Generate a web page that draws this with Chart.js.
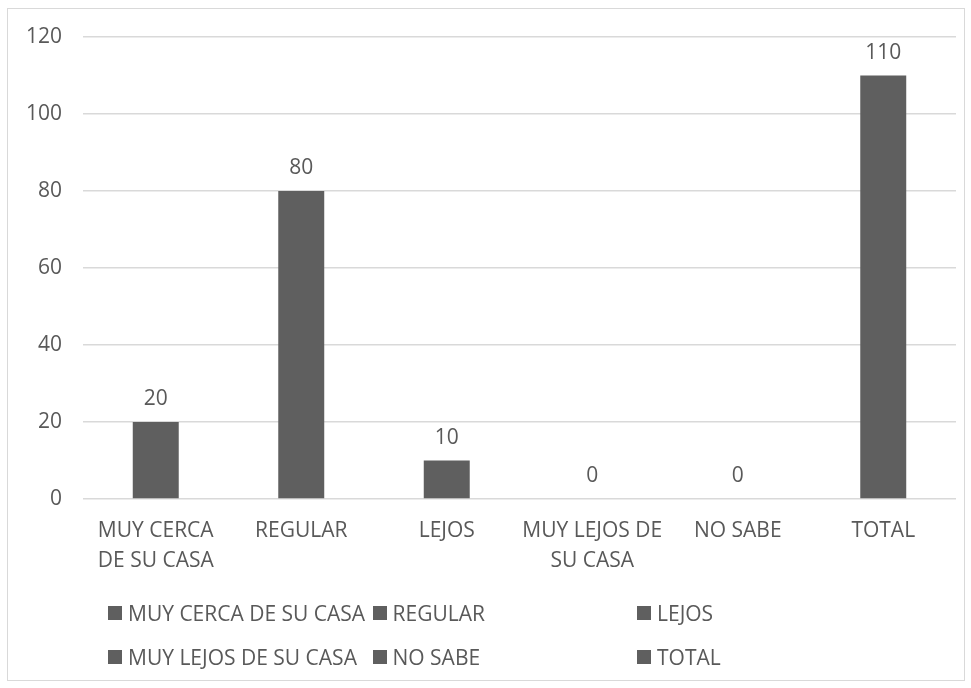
<!DOCTYPE html>
<html>
<head>
<meta charset="utf-8">
<script src="https://cdn.jsdelivr.net/npm/chart.js@4.4.1/dist/chart.umd.min.js"></script>
<style>
    body { margin: 0; background: #fff; font-family: "Open Sans", sans-serif; }
    #wrap { position: relative; width: 971px; height: 688px; }
    #frame { position: absolute; left: 7px; top: 8px; width: 956px; height: 671px; border: 1px solid #d9d9d9; }
    #chartCanvas { position: absolute; left: 0; top: 0; }
    #legend { position: absolute; left: 108px; top: 599px; display: grid; grid-template-columns: 264.5px 264.5px 264.5px; row-gap: 16px; }
    .item { display: flex; align-items: center; height: 28px; font-size: 21px; color: #595959; white-space: nowrap; }
    .box { width: 14px; height: 14px; background: #5f5f5f; margin-right: 6px; flex: none; }
</style>
</head>
<body>
<div id="wrap">
    <div id="frame"></div>
    <canvas id="chartCanvas" width="971" height="688"></canvas>
    <div id="legend"></div>
</div>
<script>
// ==============================
// Data
// ==============================
const categories = ['MUY CERCA DE SU CASA', 'REGULAR', 'LEJOS', 'MUY LEJOS DE SU CASA', 'NO SABE', 'TOTAL'];
const tickLabels = [['MUY CERCA', 'DE SU CASA'], 'REGULAR', 'LEJOS', ['MUY LEJOS DE', 'SU CASA'], 'NO SABE', 'TOTAL'];
const values = [20, 80, 10, 0, 0, 110];
const yTicks = [0, 20, 40, 60, 80, 100, 120];

const textColor = '#595959';
const barColor = '#5f5f5f';
const gridColor = '#d9d9d9';

// ==============================
// Value labels above bars
// ==============================
const valueLabels = {
    id: 'valueLabels',
    afterDatasetsDraw(chart) {
        const ctx = chart.ctx;
        const meta = chart.getDatasetMeta(0);
        ctx.save();
        ctx.font = '21px "Open Sans"';
        ctx.fillStyle = textColor;
        ctx.textAlign = 'center';
        ctx.textBaseline = 'alphabetic';
        meta.data.forEach((bar, i) => {
            ctx.fillText(String(values[i]), bar.x, bar.y - 17);
        });
        ctx.restore();
    }
};

// ==============================
// Chart
// ==============================
function renderChart() {
    const ctx = document.getElementById('chartCanvas').getContext('2d');
    new Chart(ctx, {
        type: 'bar',
        data: {
            labels: tickLabels,
            datasets: [{
                label: 'Serie',
                data: values,
                backgroundColor: barColor,
                categoryPercentage: 1,
                barPercentage: 0.316
            }]
        },
        options: {
            responsive: false,
            animation: false,
            layout: { padding: { left: 23, right: 15, top: 37, bottom: 0 } },
            plugins: { legend: { display: false }, tooltip: { enabled: false } },
            scales: {
                x: {
                    grid: { display: false, drawTicks: false },
                    border: { display: false },
                    ticks: {
                        color: textColor,
                        font: { family: 'Open Sans', size: 21, lineHeight: 1.42 },
                        padding: 17,
                        maxRotation: 0,
                        autoSkip: false
                    },
                    afterFit: s => { s.height = 189; }
                },
                y: {
                    min: 0,
                    max: 120,
                    afterBuildTicks: s => { s.ticks = yTicks.map(v => ({ value: v })); },
                    grid: { color: gridColor, lineWidth: 1.5, drawTicks: false },
                    border: { display: false },
                    ticks: {
                        color: textColor,
                        font: { family: 'Open Sans', size: 21 },
                        padding: 21
                    },
                    afterFit: s => { s.width = 60; }
                }
            }
        },
        plugins: [valueLabels]
    });
}

// ==============================
// Legend
// ==============================
function renderLegend() {
    document.getElementById('legend').innerHTML = categories.map(c => `
        <div class="item"><span class="box"></span>${c}</div>
    `).join('');
}

// ==============================
// Init
// ==============================
renderLegend();
document.fonts.load('21px "Open Sans"').then(renderChart, renderChart);
</script>
</body>
</html>
